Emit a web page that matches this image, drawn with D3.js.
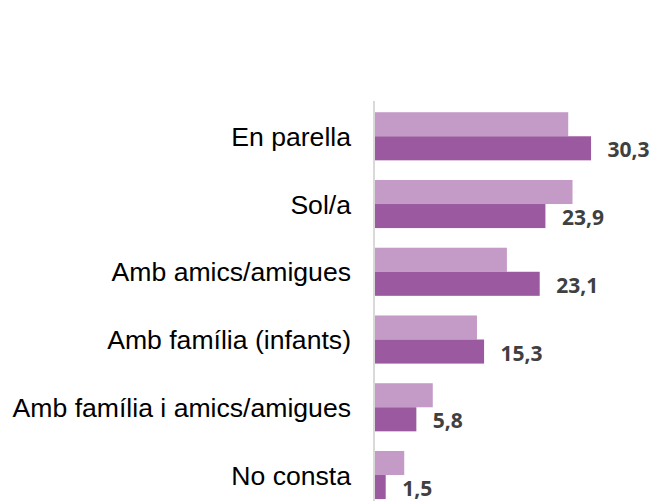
<!DOCTYPE html>
<html>
<head>
<meta charset="utf-8">
<script src="https://cdn.jsdelivr.net/npm/d3@7"></script>
<style>
	body { margin: 0; background: #fff; }
	svg { display: block; }
	.catLabel { font-family: "Liberation Sans", Arial, sans-serif; font-size: 26.6px; fill: #000; }
	.valLabel { font-family: "Open Sans", sans-serif; font-weight: bold; font-size: 21px; fill: #404040; }
</style>
</head>
<body>
<script>
var categories = ['En parella', 'Sol/a', 'Amb amics/amigues', 'Amb família (infants)', 'Amb família i amics/amigues', 'No consta'];
var seriesNames = ['anterior', 'actual'];
var valsAnterior = [27.1, 27.7, 18.5, 14.3, 8.1, 4.1];
var valsActual = [30.3, 23.9, 23.1, 15.3, 5.8, 1.5];
var colors = ['#c49ac7', '#9b59a0'];

var width = 652, height = 501;
var barX = 375;

var svg = d3.select('body').append('svg')
	.attr('width', width)
	.attr('height', height);

var x = d3.scaleLinear()
	.domain([0, 35])
	.range([barX, barX + 35 * 7.13]);

var y = d3.scaleBand()
	.domain(categories)
	.range([102.4, 508.9])
	.paddingInner(0.29)
	.paddingOuter(0.145);

var ySub = d3.scaleBand()
	.domain(seriesNames)
	.range([0, y.bandwidth()]);

var rows = categories.map(function(c, i) {
	return {cat: c, vals: [valsAnterior[i], valsActual[i]]};
});

// bars
var groups = svg.append('g')
	.attr('id', 'bars')
	.selectAll('g')
	.data(rows)
	.enter()
	.append('g')
	.attr('transform', function(d) { return 'translate(0,' + y(d.cat) + ')'; });

groups.selectAll('rect')
	.data(function(d) { return d.vals; })
	.enter()
	.append('rect')
	.attr('x', x(0))
	.attr('y', function(d, i) { return ySub(seriesNames[i]); })
	.attr('width', function(d) { return x(d) - x(0); })
	.attr('height', ySub.bandwidth())
	.attr('fill', function(d, i) { return colors[i]; });

// value labels on the dark series only
groups.append('text')
	.attr('class', 'valLabel')
	.attr('x', function(d) { return x(d.vals[1]) + 16.5; })
	.attr('y', function(d) { return ySub('actual') + ySub.bandwidth() / 2 + 1; })
	.attr('dominant-baseline', 'central')
	.text(function(d) { return d3.format('.1f')(d.vals[1]).replace('.', ','); });

// axis line
svg.append('line')
	.attr('x1', 374).attr('x2', 374)
	.attr('y1', 101).attr('y2', height)
	.attr('stroke', '#d9d9d9')
	.attr('stroke-width', 2);

// category labels
svg.append('g')
	.selectAll('text')
	.data(categories)
	.enter()
	.append('text')
	.attr('class', 'catLabel')
	.attr('text-anchor', 'end')
	.attr('x', 351)
	.attr('y', function(d) { return y(d) + y.bandwidth() / 2 + 9.5; })
	.text(function(d) { return d; });
</script>
</body>
</html>
